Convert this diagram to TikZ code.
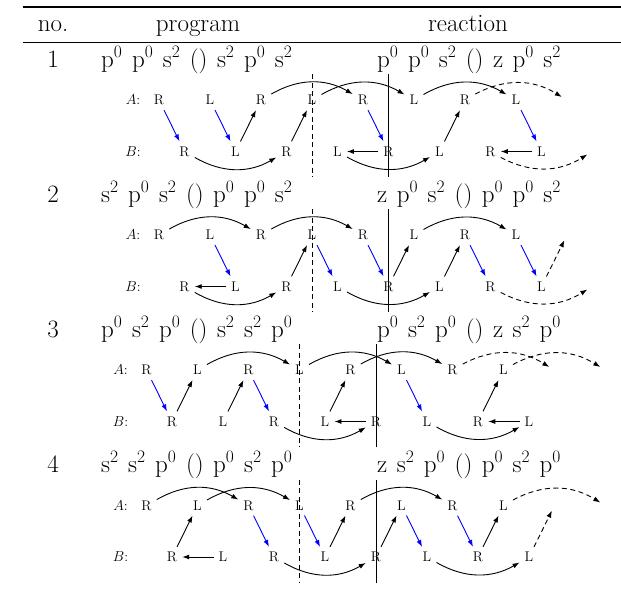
\documentclass[tikz,border=0pt]{standalone}
\usetikzlibrary{arrows.meta}
\newcommand\bigfont{\fontsize{25}{29}\selectfont\spaceskip 9.5pt\relax}
\tikzset{
  lt/.style={font=\fontsize{14}{16}\selectfont, inner sep=5pt},
  ar/.style={-{Latex[length=7pt,width=5pt]}, line width=0.9pt},
  bl/.style={ar, draw=blue},
  dsh/.style={ar, dash pattern=on 5pt off 3.5pt},
  vdash/.style={line width=0.9pt, dash pattern=on 5pt off 3.5pt},
  vsol/.style={line width=0.9pt},
  bigtxt/.style={font={\bigfont}, inner sep=0pt},
  bl30/.style={bend left=30},
  br30/.style={bend right=30}
}
\newcommand\Pq{p\textsuperscript{0}}
\newcommand\Sq{s\textsuperscript{2}}
\newcommand\mkrow[3]{%
  \foreach \i/\t in {0/R,1/L,2/R,3/L,4/R,5/L,6/R,7/L,8/,9/}{%
    \node[lt] (a#1-\i) at ({#2+51*\i},{#3}) {\t};
    \node[lt] (b#1-\i) at ({#2+25.5+51*\i},{#3+51.5}) {\t};
  }%
  \node[lt] (la#1) at ({#2-26},{#3}) {$A$:};
  \node[lt] (lb#1) at ({#2-26},{#3+51.5}) {$B$:};
  \coordinate (dt#1) at ({#2+153},{#3-26});
  \coordinate (db#1) at ({#2+153},{#3+77});
  \draw[vdash] (dt#1) -- (db#1);
  \coordinate (st#1) at ({#2+229.5},{#3-26});
  \coordinate (sb#1) at ({#2+229.5},{#3+77});
  \draw[vsol] (st#1) -- (sb#1);
}
\begin{document}
\begin{tikzpicture}[x=1pt,y=-1pt]
\useasboundingbox (0,0) rectangle (621,592);
% rules
\coordinate (r1l) at (22.7,7.3); \coordinate (r1r) at (621,7.3);
\coordinate (r2l) at (22.7,42.3); \coordinate (r2r) at (621,42.3);
\draw[line width=2pt] (r1l) -- (r1r);
\draw[line width=1pt] (r2l) -- (r2r);
% header
\node[bigtxt, anchor=base] (hno) at (53,31.7) {no.};
\node[bigtxt, anchor=base] (hprog) at (198,31.7) {program};
\node[bigtxt, anchor=base] (hreac) at (468,31.7) {reaction};
% row texts
\node[bigtxt, anchor=base] (n1) at (53,67) {1};
\node[bigtxt, anchor=base west] (p1) at (101,67) {\Pq{} \Pq{} \Sq{} () \Sq{} \Pq{} \Sq};
\node[bigtxt, anchor=base west] (q1) at (377,67) {\Pq{} \Pq{} \Sq{} () z \Pq{} \Sq};
\node[bigtxt, anchor=base] (n2) at (53,202) {2};
\node[bigtxt, anchor=base west] (p2) at (101,202) {\Sq{} \Pq{} \Sq{} () \Pq{} \Pq{} \Sq};
\node[bigtxt, anchor=base west] (q2) at (377,202) {z \Pq{} \Sq{} () \Pq{} \Pq{} \Sq};
\node[bigtxt, anchor=base] (n3) at (53,337) {3};
\node[bigtxt, anchor=base west] (p3) at (101,337) {\Pq{} \Sq{} \Pq{} () \Sq{} \Sq{} \Pq};
\node[bigtxt, anchor=base west] (q3) at (377,337) {\Pq{} \Sq{} \Pq{} () z \Sq{} \Pq};
\node[bigtxt, anchor=base] (n4) at (53,472) {4};
\node[bigtxt, anchor=base west] (p4) at (101,472) {\Sq{} \Sq{} \Pq{} () \Pq{} \Sq{} \Pq};
\node[bigtxt, anchor=base west] (q4) at (377,472) {z \Sq{} \Pq{} () \Pq{} \Sq{} \Pq};
% rows
\mkrow{1}{159}{100}
\mkrow{2}{159}{235}
\mkrow{3}{146.5}{370}
\mkrow{4}{146.5}{505.5}
% row 1 edges
\draw[bl] (a1-0) -- (b1-0);
\draw[bl] (a1-1) -- (b1-1);
\draw[bl] (a1-4) -- (b1-4);
\draw[bl] (a1-7) -- (b1-7);
\draw[ar] (b1-1) -- (a1-2);
\draw[ar] (b1-2) -- (a1-3);
\draw[ar] (b1-5) -- (a1-6);
\draw[ar] (b1-4) -- (b1-3);
\draw[ar] (b1-7) -- (b1-6);
\draw[ar] (a1-2) to[bl30] (a1-4);
\draw[ar] (a1-3) to[bl30] (a1-5);
\draw[ar] (a1-5) to[bl30] (a1-7);
\draw[dsh] (a1-6) to[bl30] (a1-8);
\draw[ar] (b1-0) to[br30] (b1-2);
\draw[ar] (b1-3) to[br30] (b1-5);
\draw[dsh] (b1-6) to[br30] (b1-8);
% row 2 edges
\draw[ar] (a2-0) to[bl30] (a2-2);
\draw[ar] (a2-2) to[bl30] (a2-4);
\draw[ar] (a2-5) to[bl30] (a2-7);
\draw[bl] (a2-1) -- (b2-1);
\draw[bl] (a2-3) -- (b2-3);
\draw[bl] (a2-4) -- (b2-4);
\draw[bl] (a2-6) -- (b2-6);
\draw[bl] (a2-7) -- (b2-7);
\draw[ar] (b2-1) -- (b2-0);
\draw[ar] (b2-2) -- (a2-3);
\draw[ar] (b2-4) -- (a2-5);
\draw[ar] (b2-5) -- (a2-6);
\draw[ar] (b2-0) to[br30] (b2-2);
\draw[ar] (b2-3) to[br30] (b2-5);
\draw[dsh] (b2-6) to[br30] (b2-8);
\draw[dsh] (b2-7) -- (a2-8);
% row 3 edges
\draw[bl] (a3-0) -- (b3-0);
\draw[bl] (a3-2) -- (b3-2);
\draw[bl] (a3-5) -- (b3-5);
\draw[ar] (b3-0) -- (a3-1);
\draw[ar] (b3-1) -- (a3-2);
\draw[ar] (b3-3) -- (a3-4);
\draw[ar] (b3-4) -- (b3-3);
\draw[ar] (b3-6) -- (a3-7);
\draw[ar] (b3-7) -- (b3-6);
\draw[ar] (a3-1) to[bl30] (a3-3);
\draw[ar] (a3-3) to[bl30] (a3-5);
\draw[ar] (a3-4) to[bl30] (a3-6);
\draw[dsh] (a3-6) to[bl30] (a3-8);
\draw[dsh] (a3-7) to[bl30] (a3-9);
\draw[ar] (b3-2) to[br30] (b3-4);
\draw[ar] (b3-5) to[br30] (b3-7);
% row 4 edges
\draw[ar] (a4-0) to[bl30] (a4-2);
\draw[ar] (a4-1) to[bl30] (a4-3);
\draw[ar] (a4-4) to[bl30] (a4-6);
\draw[dsh] (a4-7) to[bl30] (a4-9);
\draw[bl] (a4-2) -- (b4-2);
\draw[bl] (a4-3) -- (b4-3);
\draw[bl] (a4-5) -- (b4-5);
\draw[bl] (a4-6) -- (b4-6);
\draw[ar] (b4-0) -- (a4-1);
\draw[ar] (b4-1) -- (b4-0);
\draw[ar] (b4-3) -- (a4-4);
\draw[ar] (b4-4) -- (a4-5);
\draw[ar] (b4-6) -- (a4-7);
\draw[ar] (b4-2) to[br30] (b4-4);
\draw[ar] (b4-5) to[br30] (b4-7);
\draw[dsh] (b4-7) -- (a4-8);
\end{tikzpicture}
\end{document}
